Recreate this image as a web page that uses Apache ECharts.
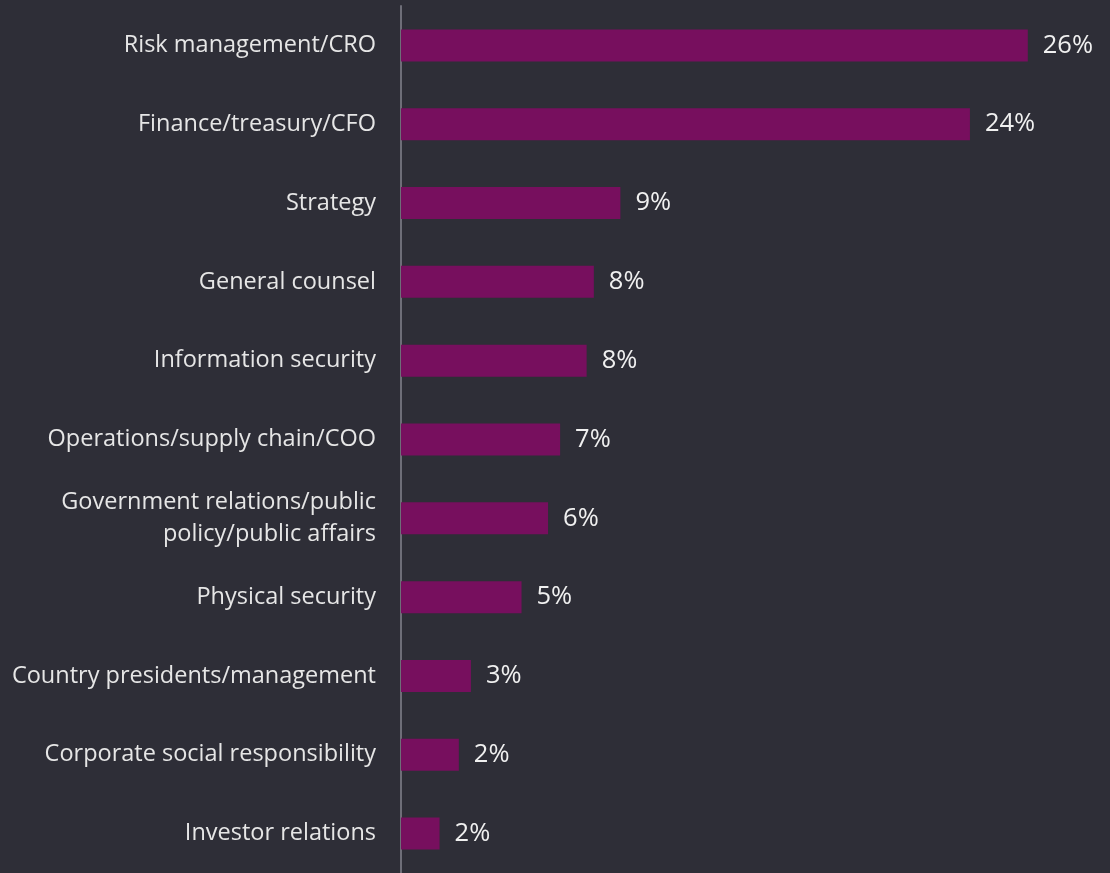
<!DOCTYPE html>
<html>
<head>
<meta charset="utf-8">
<script src="https://cdn.jsdelivr.net/npm/echarts@6/dist/echarts.min.js"></script>
<style>
html,body{margin:0;padding:0;background:#2e2e37;}
#chart{width:1110px;height:873px;}
</style>
</head>
<body>
<div id="chart"></div>
<script>
const categories = [
  "Risk management/CRO",
  "Finance/treasury/CFO",
  "Strategy",
  "General counsel",
  "Information security",
  "Operations/supply chain/COO",
  "Government relations/public\npolicy/public affairs",
  "Physical security",
  "Country presidents/management",
  "Corporate social responsibility",
  "Investor relations"
];
const values = [26.0, 23.6, 9.1, 8.0, 7.7, 6.6, 6.1, 5.0, 2.9, 2.4, 1.6];

const chart = echarts.init(document.getElementById('chart'), null, {renderer:'canvas'});
chart.setOption({
  backgroundColor: '#2e2e37',
  animation: false,
  grid: {left: 401, right: 34, top: 6, bottom: 0, containLabel: false},
  xAxis: {
    type: 'value', min: 0, max: 28,
    show: false
  },
  yAxis: {
    type: 'category',
    data: categories,
    inverse: true,
    axisLine: {show: true, lineStyle: {color: '#6e6e78', width: 2}},
    axisTick: {show: false},
    axisLabel: {
      color: '#e6e6e6',
      fontFamily: 'Open Sans',
      fontSize: 23.5,
      margin: 25,
      align: 'right',
      lineHeight: 32,
      padding: [5, 0, 0, 0]
    }
  },
  series: [{
    type: 'bar',
    data: values,
    barWidth: 32,
    itemStyle: {color: '#770f5e'},
    label: {
      show: true,
      position: 'right',
      distance: 15,
      color: '#f0f0f0',
      fontFamily: 'Open Sans',
      fontSize: 25.5,
      padding: [5, 0, 0, 0],
      formatter: p => Math.round(p.value) + '%'
    }
  }]
});
</script>
</body>
</html>
